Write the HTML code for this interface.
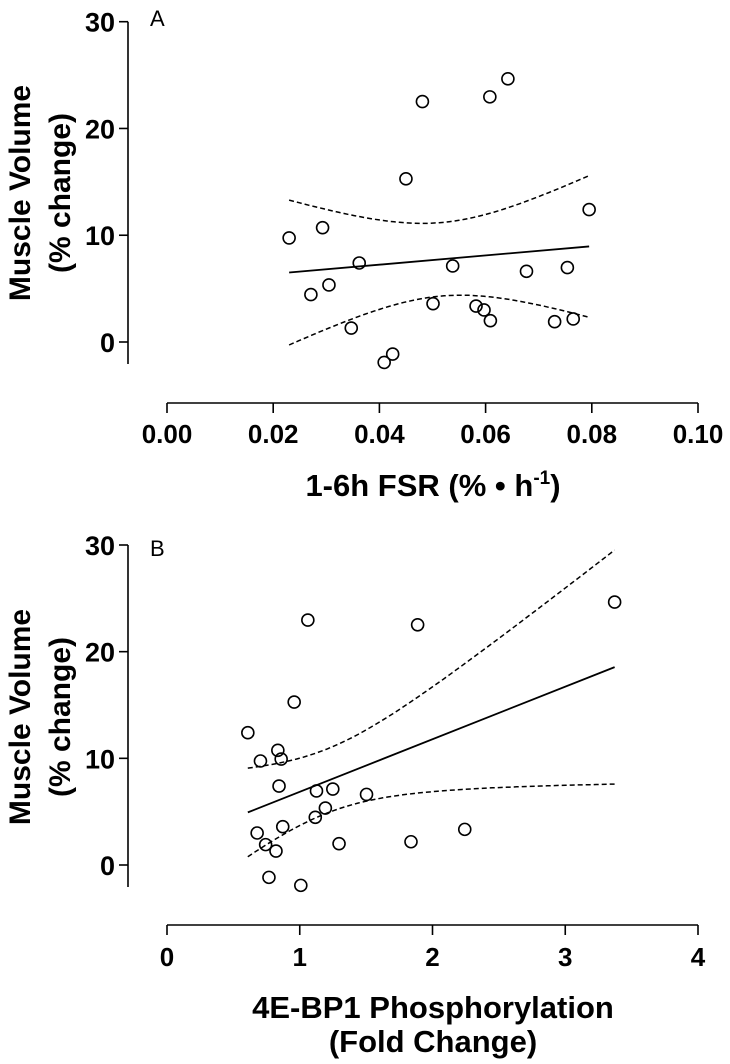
<!DOCTYPE html>
<html><head><meta charset="utf-8"><style>
html,body{margin:0;padding:0;background:#fff;}
svg{display:block;font-family:"Liberation Sans",sans-serif;}
</style></head><body>
<svg id="chart" width="730" height="1064" viewBox="0 0 730 1064"></svg>
<script>
// Panel A data
const fsrX = [0.0230,0.0293,0.0271,0.0305,0.0362,0.0347,0.0409,0.0425,0.0450,0.0481,0.0501,0.0538,0.0582,0.0597,0.0609,0.0608,0.0642,0.0677,0.0730,0.0754,0.0765,0.0795];
const fsrY = [9.75,10.71,4.44,5.34,7.40,1.31,-1.91,-1.13,15.28,22.52,3.59,7.12,3.37,3.0,2.0,22.96,24.65,6.62,1.90,6.97,2.16,12.4];
const fsrTicks = ["0.00","0.02","0.04","0.06","0.08","0.10"];
// Panel B data
const bpX = [0.609,0.704,0.835,0.860,0.844,0.958,1.061,1.888,3.372,1.126,1.249,1.503,1.193,1.117,0.872,0.679,0.743,0.821,1.296,1.838,2.243,0.768,1.008];
const bpY = [12.40,9.75,10.75,9.93,7.40,15.28,22.96,22.52,24.65,6.94,7.12,6.62,5.34,4.47,3.59,3.0,1.91,1.31,2.0,2.18,3.34,-1.16,-1.91];
const bpTicks = ["0","1","2","3","4"];
const yTicks = [0,10,20,30];

const NS="http://www.w3.org/2000/svg";
const svg=document.getElementById('chart');
function mk(tag,attrs,parent){const e=document.createElementNS(NS,tag);for(const k in attrs)e.setAttribute(k,attrs[k]);(parent||svg).appendChild(e);return e;}

function panel(cfg){
  const g=mk('g',{});
  
  
  const sx=v=>cfg.x0+(v-cfg.xmin)/(cfg.xmax-cfg.xmin)*(cfg.x1-cfg.x0);
  const sy=v=>cfg.y0-v*(cfg.y0-cfg.y30)/30;
  const ya=mk('line',{x1:128,y1:sy(30),x2:128,y2:cfg.ybot,stroke:'#000','stroke-width':1.6},g);
  
  
  yTicks.forEach(t=>{
    const tl=mk('line',{x1:119,y1:sy(t),x2:128,y2:sy(t),stroke:'#000','stroke-width':1.6},g);
    
    
    const tx=mk('text',{x:115,y:sy(t)+10,'text-anchor':'end','font-size':27,'font-weight':'bold'},g);
    tx.textContent=t;
    
    
  });
  const xa=mk('line',{x1:cfg.x0,y1:cfg.xaxY,x2:cfg.x1,y2:cfg.xaxY,stroke:'#000','stroke-width':1.6},g);
  
  
  cfg.ticks.forEach((lab,i)=>{
    const v=cfg.xmin+i*(cfg.xmax-cfg.xmin)/(cfg.ticks.length-1);
    const tl=mk('line',{x1:sx(v),y1:cfg.xaxY,x2:sx(v),y2:cfg.xaxY+10,stroke:'#000','stroke-width':1.6},g);
    
    
    const tx=mk('text',{x:sx(v),y:cfg.tickBase,'text-anchor':'middle','font-size':26,'font-weight':'bold'},g);
    tx.textContent=lab;
    
    
  });
  const pl=mk('text',{x:150,y:cfg.letterY,'font-size':22},g);
  pl.textContent=cfg.letter;
  
  
  const yt=mk('text',{transform:`translate(22,${cfg.ytc}) rotate(-90)`,'text-anchor':'middle','dominant-baseline':'middle','font-size':30,'font-weight':'bold'},g);
  yt.textContent='Muscle Volume';
  
  
  const yt2=mk('text',{transform:`translate(62,${cfg.ytc}) rotate(-90)`,'text-anchor':'middle','dominant-baseline':'middle','font-size':30,'font-weight':'bold'},g);
  yt2.textContent='(% change)';
  
  
  const X=cfg.xs,Y=cfg.ys,n=X.length;
  const mx=X.reduce((a,b)=>a+b)/n,my=Y.reduce((a,b)=>a+b)/n;
  let sxx=0,sxy=0;for(let i=0;i<n;i++){sxx+=(X[i]-mx)**2;sxy+=(X[i]-mx)*(Y[i]-my);}
  const b=sxy/sxx,a=my-b*mx;
  let sse=0;for(let i=0;i<n;i++)sse+=(Y[i]-a-b*X[i])**2;
  const s=Math.sqrt(sse/(n-2)),t=2.08;
  const lo=Math.min(...X),hi=Math.max(...X);
  let up=[],dn=[];
  for(let k=0;k<=60;k++){const v=lo+(hi-lo)*k/60;const f=a+b*v;const h=t*s*Math.sqrt(1/n+(v-mx)**2/sxx);
    up.push(sx(v).toFixed(1)+','+sy(f+h).toFixed(1));dn.push(sx(v).toFixed(1)+','+sy(f-h).toFixed(1));}
  const rl=mk('line',{x1:sx(lo),y1:sy(a+b*lo),x2:sx(hi),y2:sy(a+b*hi),stroke:'#000','stroke-width':1.8},g);
  
  
  const cu=mk('polyline',{points:up.join(' '),fill:'none',stroke:'#000','stroke-width':1.5,'stroke-dasharray':'5,3'},g);
  
  
  const cd=mk('polyline',{points:dn.join(' '),fill:'none',stroke:'#000','stroke-width':1.5,'stroke-dasharray':'5,3'},g);
  
  
  for(let i=0;i<n;i++){
    const c=mk('circle',{cx:sx(X[i]),cy:sy(Y[i]),r:6,fill:'none',stroke:'#000','stroke-width':1.6},g);
    
    
  }
  cfg.titles.forEach(tt=>{
    const e=mk('text',{x:433,y:tt.y,'text-anchor':'middle','font-size':31,'font-weight':'bold'},g);
    e.textContent=tt.t;
    
    
  });
  return g;
}
panel({name:'panel-a',xs:fsrX,ys:fsrY,ticks:fsrTicks,xmin:0,xmax:0.1,x0:167,x1:698,y0:342,y30:21.7,ybot:364,xaxY:403,tickBase:443,letter:'A',letterY:26,ytc:193,titles:[]});
panel({name:'panel-b',xs:bpX,ys:bpY,ticks:bpTicks,xmin:0,xmax:4,x0:167,x1:698,y0:865,y30:545,ybot:887,xaxY:925,tickBase:966,letter:'B',letterY:556,ytc:717,titles:[{t:'4E-BP1 Phosphorylation',y:1018},{t:'(Fold Change)',y:1052}]});
const at=mk('text',{x:433,y:496,'text-anchor':'middle','font-size':31,'font-weight':'bold'});


at.innerHTML='1-6h FSR (% \u2022 h<tspan dy="-12" font-size="19">-1</tspan><tspan dy="12">)</tspan>';
</script>
</body></html>
